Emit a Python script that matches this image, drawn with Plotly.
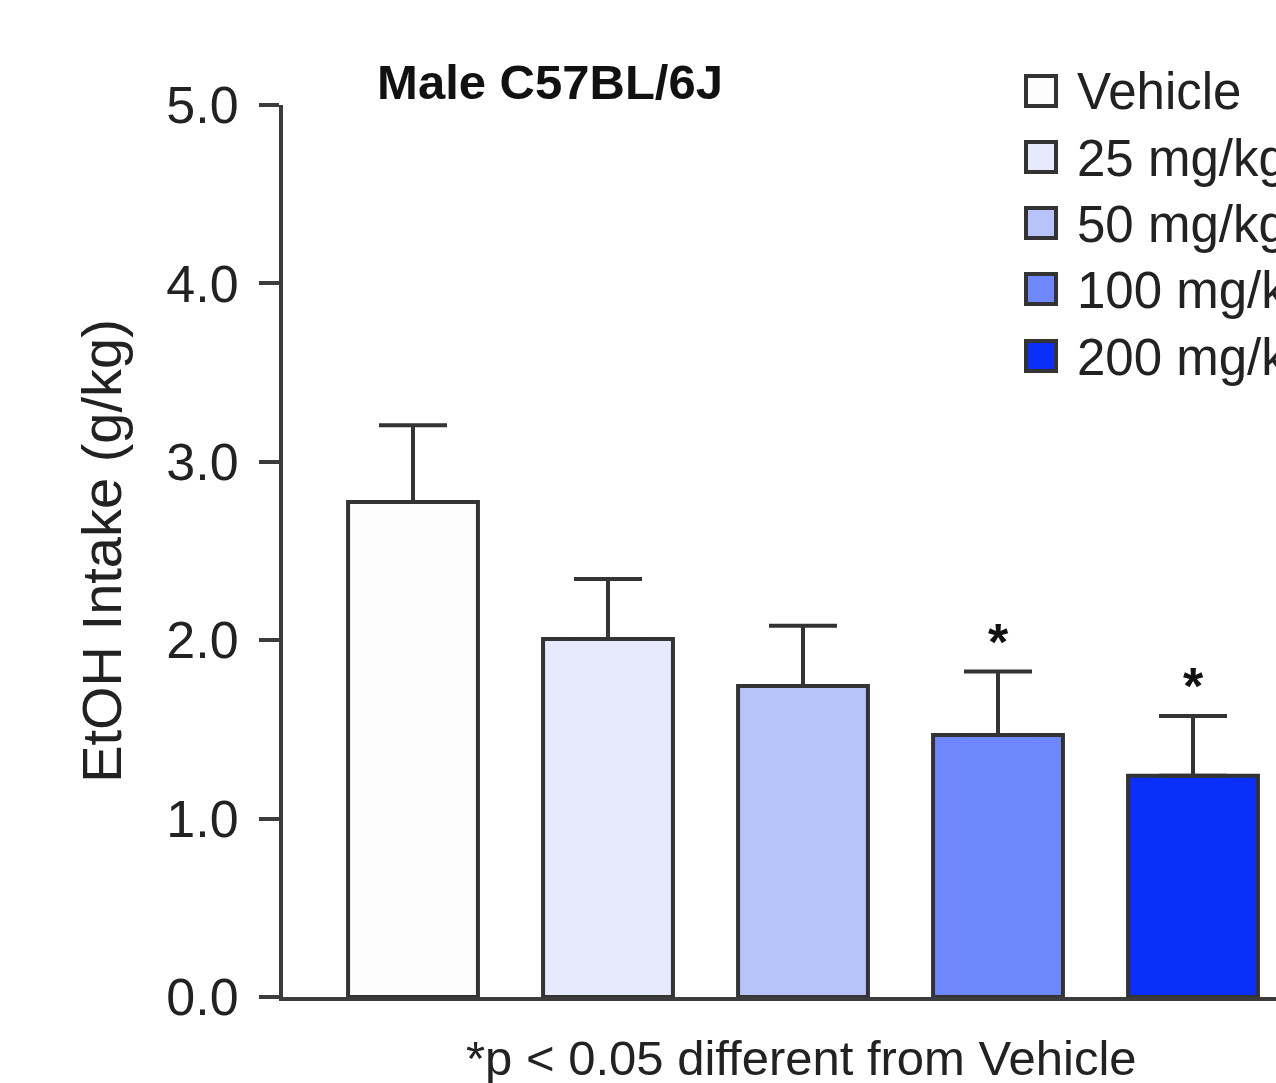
import plotly.graph_objects as go

groups = ["Vehicle", "25 mg/kg", "50 mg/kg", "100 mg/kg", "200 mg/kg"]
means = [2.775, 2.007, 1.743, 1.469, 1.240]
sems = [0.43, 0.336, 0.338, 0.355, 0.335]
significant = [False, False, False, True, True]
colors = ["#fdfdfe", "#e6eafc", "#b7c3fb", "#6e87fb", "#0b2ffb"]
yticks = [0, 1, 2, 3, 4, 5]

W, H = 1276, 1083
L, R, T, B = 283, 0, 105, 86
pw, ph = W - L - R, H - T - B

def px(x):
    return (x - L) / pw

def py(y):
    return (H - B - y) / ph

FONT = "Liberation Sans, Arial, sans-serif"
EDGE = "#333333"

fig = go.Figure()
fig.add_trace(go.Bar(
    x=list(range(len(groups))), y=means,
    marker=dict(color=colors, line=dict(color=EDGE, width=4)),
    error_y=dict(type="data", array=sems, arrayminus=[0] * len(sems), symmetric=False,
                 thickness=4, width=34, color=EDGE),
    showlegend=False, hoverinfo="skip",
))

annotations = []
for i, (m, s, sig) in enumerate(zip(means, sems, significant)):
    if sig:
        annotations.append(dict(x=i, y=m + s, xref="x", yref="y", text="<b>*</b>", showarrow=False,
                                yanchor="middle", yshift=30,
                                font=dict(family=FONT, size=52, color="#111111")))

# manual legend
leg_y = [91, 157, 223, 289, 356]
for g, c, yc in zip(groups, colors, leg_y):
    fig.add_shape(type="rect", xref="paper", yref="paper",
                  x0=px(1026), x1=px(1056), y0=py(yc + 15), y1=py(yc - 15),
                  line=dict(color=EDGE, width=4), fillcolor=c)
    annotations.append(dict(x=px(1075), y=py(yc + 1), xref="paper", yref="paper", text=g,
                            showarrow=False, xanchor="left", yanchor="middle",
                            font=dict(family=FONT, size=51, color="#222222")))

annotations.append(dict(x=px(801), y=py(1058), xref="paper", yref="paper",
                        text="*p < 0.05 different from Vehicle", showarrow=False,
                        xanchor="center", yanchor="middle",
                        font=dict(family=FONT, size=49, color="#222222")))

fig.update_layout(
    width=W, height=H,
    margin=dict(l=L, r=R, t=T, b=B, pad=0, autoexpand=False),
    paper_bgcolor="white", plot_bgcolor="white",
    bargap=0.334,
    title=dict(text="<b>Male C57BL/6J</b>", x=px(550), xref="paper", xanchor="center",
               y=1 - 82 / H, yref="container", yanchor="middle",
               font=dict(family=FONT, size=49, color="#111111")),
    xaxis=dict(range=[-0.6667, 4.4256], showticklabels=False, ticks="", showgrid=False,
               zeroline=False, showline=True, linewidth=4, linecolor="#3c3c3c"),
    yaxis=dict(range=[0, 5], tickvals=yticks, tickformat=".1f", ticks="outside",
               ticklen=20, tickwidth=4, tickcolor="#3c3c3c", showgrid=False, zeroline=False,
               showline=True, linewidth=4, linecolor="#3c3c3c",
               ticklabelstandoff=10,
               tickfont=dict(family=FONT, size=52, color="#222222"),
               title=dict(text="EtOH Intake (g/kg)", standoff=28,
                          font=dict(family=FONT, size=56, color="#222222"))),
    annotations=annotations,
)

fig.write_html("out.html")
